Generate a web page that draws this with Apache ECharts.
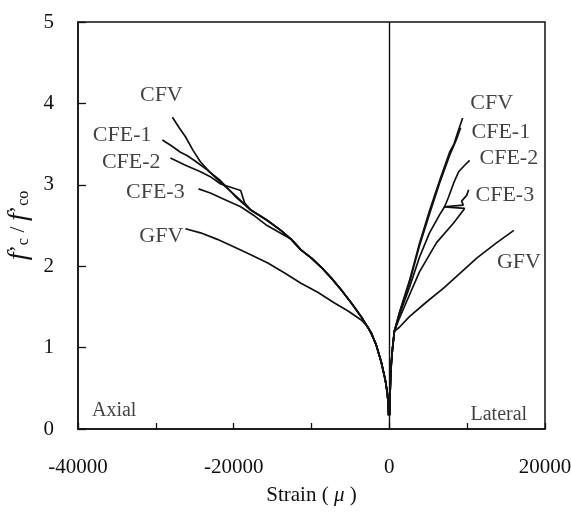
<!DOCTYPE html>
<html>
<head>
<meta charset="utf-8">
<script src="https://cdn.jsdelivr.net/npm/echarts@6/dist/echarts.min.js"></script>
<style>html,body{margin:0;padding:0;background:#fff;}#c{width:571px;height:514px;}</style>
</head>
<body>
<div id="c"></div>
<script>
// ---- data (strain in micro-strain, stress ratio f'c/f'co) ----
var xTicksShown = [-40000, -20000, 0, 20000];
var yTicks = [0, 1, 2, 3, 4, 5];

var axialCommon = [[-100,0.17],[-129,0.29],[-258,0.44],[-516,0.60],[-1032,0.82],[-1677,1.03],[-2323,1.18],[-3613,1.38],[-4903,1.55],[-6194,1.71],[-7500,1.86],[-8774,1.99],[-10000,2.10],[-11355,2.20],[-12600,2.33],[-13935,2.44],[-15800,2.57],[-17806,2.69]];
var cfvAxial  = [[-19700,2.86],[-21677,3.03],[-23000,3.15],[-24258,3.28],[-25200,3.42],[-26194,3.59],[-27000,3.70],[-27871,3.83]];
var cfe1Axial = [[-19600,2.84],[-21677,3.05],[-23500,3.19],[-24903,3.29],[-26000,3.36],[-26839,3.40],[-28000,3.48],[-29161,3.55]];
var cfe2Axial = [[-18600,2.78],[-19097,2.93],[-21677,3.01],[-23000,3.10],[-24258,3.16],[-26194,3.24],[-28129,3.33]];
var cfe3AxialTail = [[-15871,2.51],[-17500,2.63],[-19097,2.73],[-21677,2.84],[-23000,2.90],[-24516,2.95]];
var gfvAxialTail = [[-2710,1.25],[-3613,1.34],[-5300,1.45],[-7097,1.55],[-9200,1.68],[-11355,1.79],[-13500,1.92],[-15613,2.04],[-17800,2.14],[-20000,2.24],[-22100,2.33],[-24258,2.41],[-26194,2.46]];

var lateralCommon = [[30,0.17],[60,0.30],[100,0.45],[160,0.62],[250,0.80],[400,0.98],[645,1.20]];
var cfvLateral  = [[1290,1.43],[2581,1.82],[3871,2.28],[5161,2.68],[6452,3.05],[7742,3.40],[8300,3.50],[8710,3.62],[9419,3.82]];
var cfe1Lateral = [[1290,1.42],[2581,1.80],[3871,2.25],[5161,2.64],[6452,3.02],[7742,3.36],[8600,3.55],[9161,3.70]];
var cfe2Lateral = [[1290,1.40],[2581,1.74],[3871,2.11],[5161,2.41],[6452,2.63],[7097,2.73],[7613,2.85],[8258,3.02],[8903,3.16],[9677,3.24],[10323,3.30]];
var cfe3Lateral = [[1290,1.36],[2194,1.56],[3871,1.93],[6065,2.29],[8258,2.53],[9677,2.71],[7000,2.73],[9500,2.75],[9290,2.80],[9935,2.87],[10194,2.94]];
var gfvLateral  = [[1290,1.25],[2581,1.38],[4774,1.56],[6968,1.73],[9032,1.91],[11226,2.10],[13806,2.29],[16000,2.44]];

var curveNames = ['CFV','CFE-1','CFE-2','CFE-3','GFV','CFV','CFE-1','CFE-2','CFE-3','GFV'];
var labelX = [-29290,-34323,-33161,-30065,-29290,13161,14323,15355,14839,16645];
var labelY = [4.10,3.61,3.28,2.91,2.37,4.00,3.65,3.33,2.87,2.05];
var regionNames = ['Axial','Lateral'];
var regionX = [-35355,14065];
var regionY = [0.23,0.17];

// ---- build ----
function cat(a,b){ return a.concat(b); }
var cfe3Axial = axialCommon.slice(0, 15).concat(cfe3AxialTail);
var gfvAxial = axialCommon.slice(0, 6).concat(gfvAxialTail);
var lines = [
  cat(axialCommon, cfvAxial), cat(axialCommon, cfe1Axial), cat(axialCommon, cfe2Axial), cfe3Axial, gfvAxial,
  cat(lateralCommon, cfvLateral), cat(lateralCommon, cfe1Lateral), cat(lateralCommon, cfe2Lateral), cat(lateralCommon, cfe3Lateral), cat(lateralCommon, gfvLateral)
];
var FONT = 'Liberation Serif, Times New Roman, serif';
var series = lines.map(function(d, i){
  var s = {type:'line', data:d, showSymbol:false, symbol:'none', silent:true,
    lineStyle:{color:'#111', width:1.7}, z:3};
  if (i === 0) {
    s.markLine = {symbol:'none', silent:true, label:{show:false},
      lineStyle:{color:'#111', width:1.4, type:'solid'}, data:[{xAxis:0}]};
  }
  return s;
});
series.push({type:'scatter', symbolSize:0, silent:true,
  data: curveNames.map(function(n,i){ return {name:n, value:[labelX[i], labelY[i]]}; }),
  label:{show:true, position:'inside', formatter:'{b}', color:'#111', fontFamily:FONT, fontSize:22}});
series.push({type:'scatter', symbolSize:0, silent:true,
  data: regionNames.map(function(n,i){ return {name:n, value:[regionX[i], regionY[i]]}; }),
  label:{show:true, position:'inside', formatter:'{b}', color:'#111', fontFamily:FONT, fontSize:20}});

var chart = echarts.init(document.getElementById('c'), null, {renderer:'canvas'});
chart.setOption({
  animation:false,
  backgroundColor:'#fff',
  grid:{left:78, right:26, top:22, bottom:85, containLabel:false, outerBoundsMode:'none',
    show:true, borderColor:'#111', borderWidth:1.5},
  xAxis:{type:'value', min:-40000, max:20000, interval:10000,
    axisLine:{show:true, onZero:false, lineStyle:{color:'#111', width:1.5}},
    axisTick:{show:true, inside:true, length:6, lineStyle:{color:'#111', width:1.3}},
    splitLine:{show:false},
    axisLabel:{color:'#111', fontFamily:FONT, fontSize:21, margin:28,
      formatter:function(v){ return xTicksShown.indexOf(v) >= 0 ? String(v) : ''; }},
    name:'Strain ( {mu|μ} )', nameLocation:'middle', nameGap:56,
    nameTextStyle:{color:'#111', fontFamily:FONT, fontSize:21, rich:{mu:{fontFamily:FONT, fontSize:21, fontStyle:'italic', color:'#111'}}}
  },
  yAxis:{type:'value', min:0, max:5, interval:1,
    axisLine:{show:true, onZero:false, lineStyle:{color:'#111', width:1.5}},
    axisTick:{show:true, inside:true, length:8, lineStyle:{color:'#111', width:1.3}},
    splitLine:{show:false},
    axisLabel:{color:'#111', fontFamily:FONT, fontSize:21, margin:24,
      formatter:function(v){ return yTicks.indexOf(v) >= 0 ? String(v) : ''; }},
    name:'{f|f}{p|\u2019}{s|c}{p| / }{f|f}{p|\u2019}{s|co}', nameLocation:'middle', nameGap:36, nameRotate:90,
    nameTextStyle:{color:'#111', fontFamily:FONT, fontSize:22,
      rich:{
        f:{fontFamily:FONT, fontSize:28, fontStyle:'italic', color:'#111'},
        p:{fontFamily:FONT, fontSize:22, color:'#111'},
        s:{fontFamily:FONT, fontSize:16, color:'#111', padding:[10,0,0,0]}
      }}
  },
  series:series
});
</script>
</body>
</html>
